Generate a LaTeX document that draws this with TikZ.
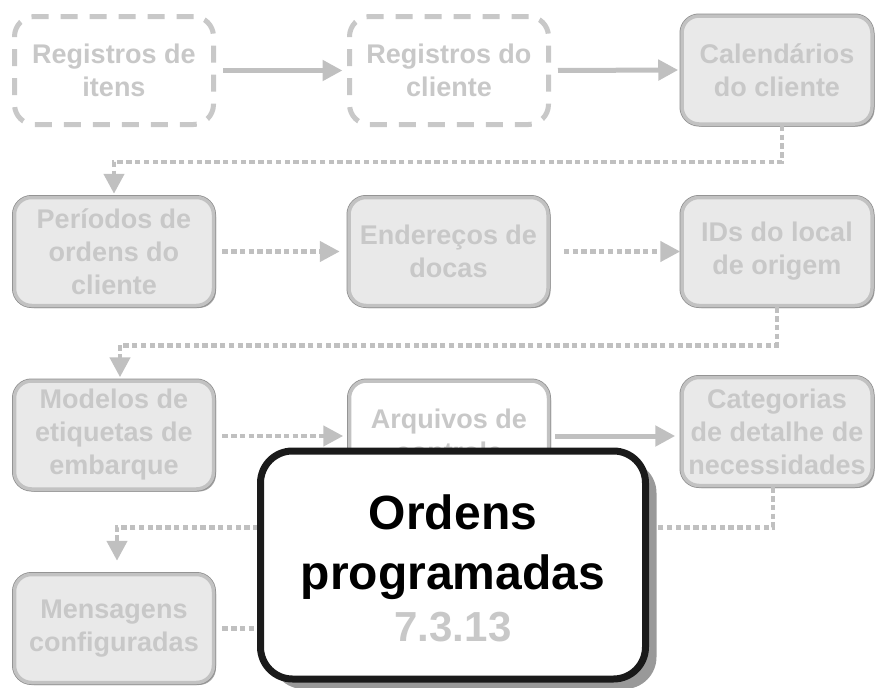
\documentclass[tikz,border=0pt]{standalone}
\usepackage{fontspec}
\setmainfont{Liberation Sans}
\usetikzlibrary{arrows.meta,shadows}
\definecolor{txtgray}{HTML}{C8C8C8}
\definecolor{boxfill}{HTML}{E9E9E9}
\definecolor{boxborder}{HTML}{C2C2C2}
\definecolor{boxdark}{HTML}{8E8E8E}
\definecolor{arrgray}{HTML}{C0C0C0}
\definecolor{shadowgray}{HTML}{999999}
\definecolor{bigborder}{HTML}{1A1A1A}
\tikzset{
  boxtext/.style={font=\bfseries\fontsize{27}{33}\selectfont, align=center, text=txtgray, inner sep=0pt},
  gbox/.style={boxtext, rounded corners=17pt, fill=boxfill, draw=boxborder, line width=3.5pt,
    minimum width=199pt, minimum height=108pt,
    drop shadow={shadow xshift=2.5pt, shadow yshift=-2.5pt, fill=boxborder!85!black, opacity=1},
    preaction={draw=boxdark, line width=5pt}},
  wbox/.style={gbox, fill=white},
  dbox/.style={boxtext, rounded corners=20pt, fill=white, draw=txtgray, line width=5pt,
    dash pattern=on 17pt off 12pt, minimum width=199pt, minimum height=108pt},
  solidarrow/.style={draw=arrgray, line width=5pt, -{Triangle[length=20pt,width=20pt]}},
  dotline/.style={draw=arrgray, line width=4.5pt, dash pattern=on 5.5pt off 3.3pt},
  dotarrow/.style={dotline, -{Triangle[length=20pt,width=20pt]}},
  bigbox/.style={rounded corners=32pt, fill=white, draw=bigborder, line width=7pt,
    minimum width=385pt, minimum height=228pt,
    drop shadow={shadow xshift=11pt, shadow yshift=-10pt, fill=shadowgray, opacity=1}},
  bigtext/.style={font=\bfseries\fontsize{48}{60}\selectfont, align=center, text=black, inner sep=0pt}
}
\begin{document}
\begin{tikzpicture}[x=1pt,y=-1pt]
\useasboundingbox (0,0) rectangle (876,688);
% row 1
\node[dbox] (item) at (114,70.5) {Registros de\\itens};
\node[dbox] (cli) at (449,70.5) {Registros do\\cliente};
\node[gbox, minimum width=190pt] (cal) at (777,70) {Calendários\\do cliente};
% row 2
\node[gbox] (per) at (114,251.5) {Períodos de\\ordens do\\cliente};
\node[gbox] (end) at (448.5,251.5) {Endereços de\\docas};
\node[gbox, minimum width=190pt] (ids) at (777,251.5) {IDs do local\\de origem};
% row 3
\node[gbox] (mod) at (114,435) {Modelos de\\etiquetas de\\embarque};
\node[wbox] (arq) at (449,435) {Arquivos de\\controle};
\node[gbox, minimum width=190pt] (cat) at (777,431.5) {Categorias\\de detalhe de\\necessidades};
% row 4
\node[gbox] (men) at (114,628.5) {Mensagens\\configuradas};
\coordinate (mend) at (270,628.5);
% connectors
\draw[solidarrow, shorten <=7pt, shorten >=4.5pt] (item.east) -- (cli.west);
\draw[solidarrow, shorten <=7pt, shorten >=2pt] (cli.east) -- (cal.west);
\draw[dotarrow] ([xshift=5pt]cal.south) -- ++(0,36) -| ([yshift=2pt]per.north);
\draw[dotarrow, shorten <=7pt, shorten >=7.5pt] (per.east) -- (end.west);
\draw[dotarrow, shorten <=14pt] (end.east) -- (ids.west);
\draw[dotarrow] (ids.south) -- ++(0,38) -| ([xshift=6pt,yshift=2pt]mod.north);
\draw[dotarrow, shorten <=7pt, shorten >=4.5pt] ([yshift=-1pt]mod.east) -- ([yshift=-1pt]arq.west);
\draw[solidarrow, shorten <=5pt, shorten >=5pt] ([yshift=-1pt]arq.east) -- ([yshift=-1pt]arq.east -| cat.west);
\draw[dotarrow] ([xshift=-4pt]cat.south) -- ++(0,40) -| ([xshift=3pt,yshift=12pt]men.north);
\draw[dotline, shorten <=7pt] (men.east) -- (mend);
% big box
\node[bigbox] (big) at (453,565) {};
\node[bigtext] (bigtxt) at ([yshift=-3.5pt]big.center) {Ordens\\programadas\\[-8pt]\fontsize{42}{52}\selectfont\color{txtgray}7.3.13};
\end{tikzpicture}
\end{document}
